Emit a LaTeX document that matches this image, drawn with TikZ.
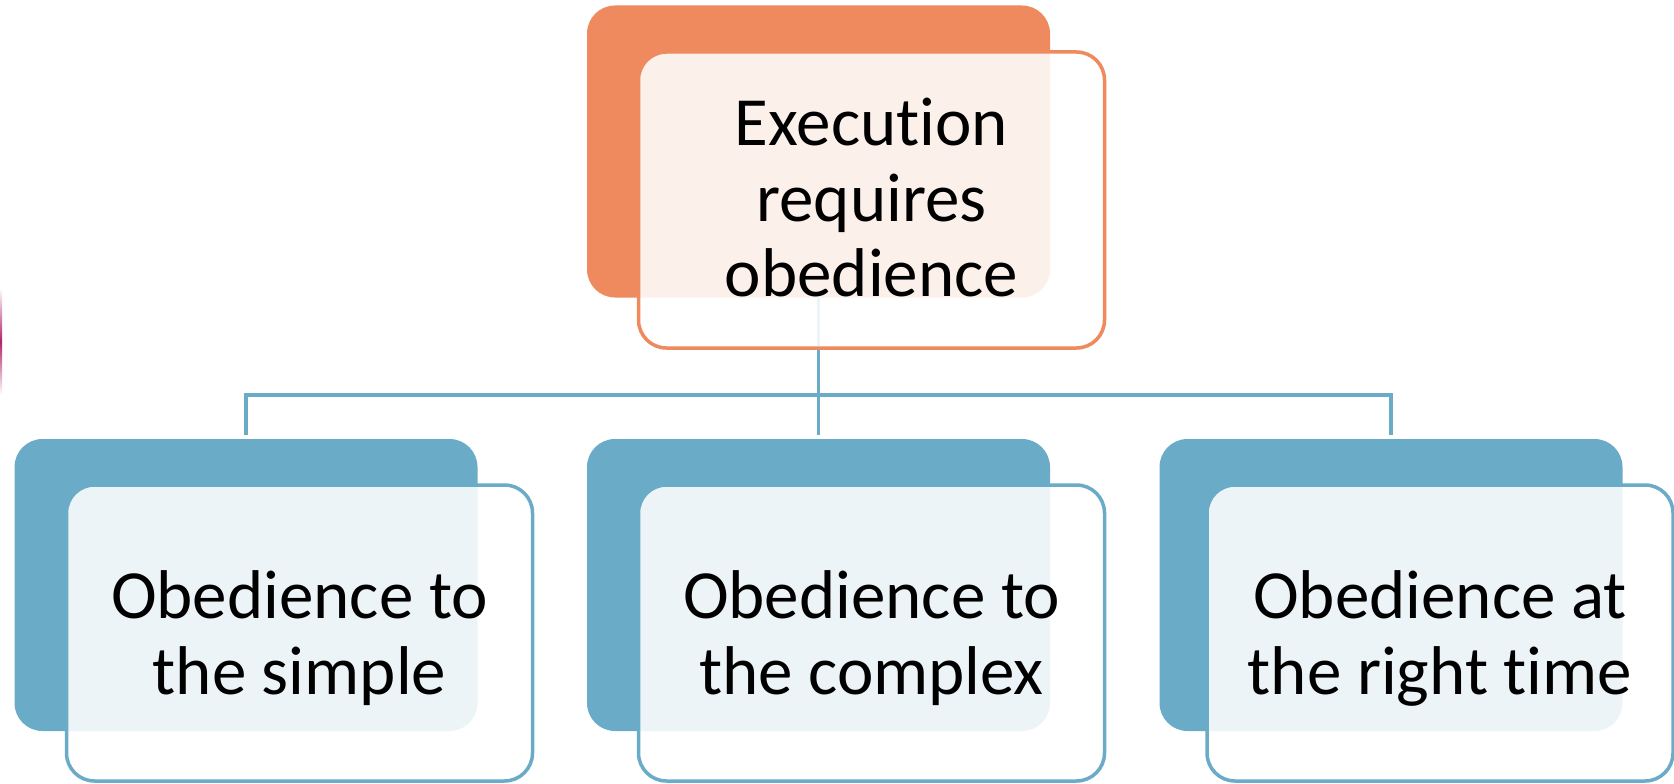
\documentclass[tikz,border=0pt]{standalone}
\usepackage{fontspec}
\setmainfont[Ligatures=NoCommon, RawFeature={-liga;-calt;-dlig}]{Carlito}
\newcommand{\nolig}{\kern0pt }
\definecolor{org}{HTML}{EE8A5D}
\definecolor{blu}{HTML}{6AACC8}
\definecolor{mag}{HTML}{B3246A}
\begin{document}
\begin{tikzpicture}[x=1pt,y=-1pt,
  backbox/.style={rectangle, rounded corners=28pt, minimum width=463pt, minimum height=292pt, inner sep=0pt, fill=#1},
  frontbox/.style={rectangle, rounded corners=28pt, minimum width=466pt, minimum height=296pt, inner sep=0pt, draw=#1, line width=3.5pt, fill=white, fill opacity=0.88},
  conn/.style={draw=blu, line width=3.8pt},
  lbl/.style={anchor=base, inner sep=0pt, font=\fontsize{69}{76}\selectfont}]
\useasboundingbox[fill=white] (0,0) rectangle (1674,784);

% magenta edge
\shade[top color=white, bottom color=white, middle color=mag] (0,288) rectangle (2,395);

% back boxes
\node[backbox=org] (topb) at (818.5,151.5) {};
\node[backbox=blu] (c1b) at (246,585) {};
\node[backbox=blu] (c2b) at (818.5,585) {};
\node[backbox=blu] (c3b) at (1391,585) {};

% connectors
\coordinate (bus) at (0,395);
\draw[conn] (topb.south) -- (topb.south |- bus);
\draw[conn, shorten <=4pt, shorten >=4pt] (c1b.north) |- (c3b.north |- bus) -- (c3b.north);
\draw[conn, shorten <=4pt] (c2b.north) -- (c2b.north |- bus);

% front boxes
\node[frontbox=org] (topf) at (871.5,200) {};
\node[frontbox=blu] (c1f) at (299.5,633) {};
\node[frontbox=blu] (c2f) at (871.5,633) {};
\node[frontbox=blu] (c3f) at (1440,633) {};

% texts
\node[lbl] (topt) at (topf.center |- 0,145) {\begin{tabular}[t]{@{}c@{}}Execut\nolig ion\\requires\\obedience\end{tabular}};
\node[lbl] (c1t) at (c1f.center |- 0,618) {\begin{tabular}[t]{@{}c@{}}Obedience to\\the simple\end{tabular}};
\node[lbl] (c2t) at (c2f.center |- 0,618) {\begin{tabular}[t]{@{}c@{}}Obedience to\\the complex\end{tabular}};
\node[lbl] (c3t) at (c3f.center |- 0,618) {\begin{tabular}[t]{@{}c@{}}Obedience at\\the right t\nolig ime\end{tabular}};
\end{tikzpicture}
\end{document}
